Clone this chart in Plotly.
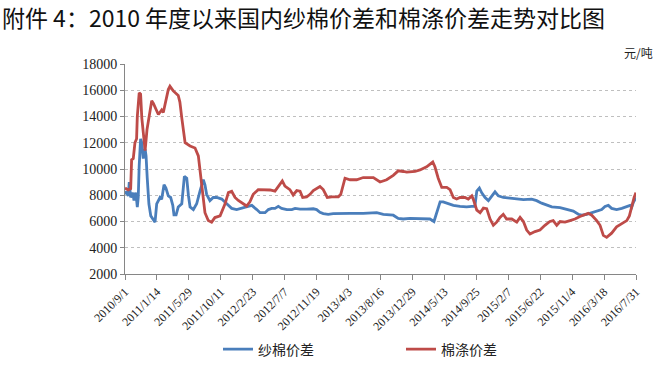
import plotly.graph_objects as go

# 纱棉价差 (blue)
yarn_dates = ["2010-09-01","2010-09-08","2010-09-15","2010-09-19","2010-09-25","2010-10-04","2010-10-09","2010-10-17","2010-10-23","2010-10-27",
"2010-10-31","2010-11-06","2010-11-11","2010-11-17","2010-11-25","2010-11-29","2010-12-04","2010-12-11","2010-12-19","2010-12-30",
"2011-01-06","2011-01-13","2011-01-20","2011-01-27","2011-02-03","2011-02-13","2011-02-21","2011-03-03","2011-03-13","2011-03-22",
"2011-03-27","2011-04-05","2011-04-14","2011-04-29","2011-05-10","2011-05-20","2011-05-27","2011-06-03","2011-06-17","2011-07-01",
"2011-07-15","2011-07-29","2011-08-05","2011-08-12","2011-08-26","2011-09-09","2011-09-24","2011-10-15","2011-11-05","2011-11-26",
"2011-12-17","2012-01-07","2012-01-28","2012-02-19","2012-03-11","2012-03-25","2012-04-15","2012-04-29","2012-05-13","2012-05-27",
"2012-06-10","2012-06-24","2012-07-16","2012-08-06","2012-08-20","2012-09-10","2012-10-08","2012-11-05","2012-11-19","2012-12-03",
"2012-12-17","2013-01-07","2013-01-28","2013-02-26","2013-04-09","2013-06-04","2013-07-17","2013-07-31","2013-08-28","2013-09-25",
"2013-10-09","2013-10-30","2013-11-20","2013-12-19","2014-01-16","2014-02-13","2014-03-13","2014-03-30","2014-04-13","2014-04-25",
"2014-05-08","2014-05-23","2014-06-20","2014-07-18","2014-08-15","2014-09-06","2014-09-19","2014-09-27","2014-10-08","2014-10-18",
"2014-11-01","2014-11-15","2014-11-29","2014-12-13","2014-12-27","2015-01-17","2015-02-14","2015-03-15","2015-04-12","2015-05-17",
"2015-06-07","2015-06-28","2015-07-20","2015-08-10","2015-09-14","2015-10-12","2015-11-09","2015-11-30","2015-12-14","2016-01-04",
"2016-01-26","2016-02-16","2016-03-08","2016-03-22","2016-04-05","2016-04-19","2016-05-10","2016-06-01","2016-06-22","2016-07-06",
"2016-07-13","2016-07-20","2016-07-31"]
yarn_values = [8070,8300,7950,9000,7830,8200,7600,8200,7100,7830,
10240,12300,12000,10800,11500,11000,9300,7350,6430,6070,
5950,7350,7600,7830,7700,8800,8550,7950,7830,7230,
6500,6500,7100,7350,9440,9300,8000,7110,6910,7350,
8310,9180,8800,8070,7590,7830,7830,7710,7350,7000,
6910,7000,7110,7230,6910,6670,6670,6910,7000,7000,
7150,7000,6910,6910,7000,6950,6950,6970,6910,6700,
6600,6550,6600,6620,6620,6620,6620,6670,6550,6500,
6480,6240,6190,6240,6240,6240,6190,6000,6790,7500,
7500,7400,7230,7150,7110,7150,7150,8310,8550,8190,
7830,7590,7950,8260,7950,7830,7780,7710,7660,7710,
7590,7400,7230,7110,7060,6910,6790,6550,6480,6550,
6670,6790,6910,7150,7230,7000,6910,7000,7150,7230,
7100,7470,7830]

# 棉涤价差 (red)
poly_dates = ["2010-09-01","2010-09-15","2010-09-25","2010-09-29","2010-10-06","2010-10-13","2010-10-20","2010-10-23","2010-10-31","2010-11-06",
"2010-11-11","2010-11-17","2010-11-25","2010-12-03","2010-12-23","2010-12-30","2011-01-13","2011-01-20","2011-02-03","2011-02-10",
"2011-02-17","2011-03-03","2011-03-10","2011-03-24","2011-04-14","2011-04-21","2011-04-29","2011-05-13","2011-06-03","2011-06-24",
"2011-07-08","2011-07-15","2011-07-29","2011-08-05","2011-08-19","2011-09-02","2011-09-16","2011-10-08","2011-10-29","2011-11-12",
"2011-11-26","2011-12-10","2011-12-24","2012-01-21","2012-01-28","2012-02-11","2012-02-25","2012-03-17","2012-04-15","2012-05-06",
"2012-05-27","2012-06-17","2012-06-27","2012-07-08","2012-07-29","2012-08-12","2012-08-27","2012-09-10","2012-09-21","2012-10-08",
"2012-10-22","2012-11-05","2012-12-03","2012-12-17","2013-01-03","2013-01-22","2013-02-19","2013-03-01","2013-03-19","2013-04-09",
"2013-05-07","2013-06-04","2013-07-17","2013-08-14","2013-09-11","2013-10-09","2013-10-30","2013-11-20","2013-12-05","2014-01-09",
"2014-01-30","2014-02-27","2014-03-25","2014-04-03","2014-04-17","2014-05-02","2014-05-23","2014-06-06","2014-06-20","2014-07-04",
"2014-07-18","2014-08-08","2014-08-22","2014-09-06","2014-09-12","2014-09-27","2014-10-11","2014-10-25","2014-11-08","2014-11-22",
"2014-12-06","2014-12-20","2015-01-03","2015-01-17","2015-01-31","2015-02-22","2015-03-15","2015-03-29","2015-04-12","2015-04-26",
"2015-05-10","2015-05-31","2015-06-21","2015-07-12","2015-08-02","2015-08-16","2015-08-31","2015-09-14","2015-10-05","2015-10-26",
"2015-11-16","2015-12-07","2015-12-28","2016-01-11","2016-01-26","2016-02-16","2016-03-01","2016-03-15","2016-03-29","2016-04-19",
"2016-05-10","2016-06-01","2016-06-22","2016-07-03","2016-07-13","2016-07-23","2016-07-31"]
poly_values = [8550,8400,8500,10700,10800,12000,12300,14000,15800,15700,
13900,12800,11400,13000,15200,15000,14400,14150,14500,14300,
14900,16050,16300,15950,15600,15100,13900,12000,11750,11600,
11000,9800,7830,6670,6070,5950,6300,6430,7350,8200,
8300,7830,7600,7300,7180,7500,8070,8430,8400,8400,
8310,8790,9090,8700,8430,8020,8360,8310,7830,7880,
8070,8360,8670,8430,7830,7880,7880,8070,9300,9180,
9180,9350,9350,9010,9180,9520,9860,9810,9760,9810,
9930,10170,10530,10170,9300,8600,8600,8430,7830,7710,
7830,7830,7710,7950,7710,6870,6670,7020,6980,6190,
5710,5950,6310,6550,6190,6190,5950,6310,6000,5350,
5040,5230,5350,5710,6000,6070,5710,6000,5950,6070,
6190,6380,6550,6620,6480,6070,5710,4940,4790,5110,
5590,5830,6070,6430,7150,7830,8200]

tick_dates = ["2010-09-01","2011-01-14","2011-05-29","2011-10-11","2012-02-23","2012-07-07","2012-11-19",
              "2013-04-03","2013-08-16","2013-12-29","2014-05-13","2014-09-25","2015-02-07","2015-06-22",
              "2015-11-04","2016-03-18","2016-07-31"]
tick_labels = ["2010/9/1","2011/1/14","2011/5/29","2011/10/11","2012/2/23","2012/7/7","2012/11/19",
               "2013/4/3","2013/8/16","2013/12/29","2014/5/13","2014/9/25","2015/2/7","2015/6/22",
               "2015/11/4","2016/3/18","2016/7/31"]
y_ticks = [2000,4000,6000,8000,10000,12000,14000,16000,18000]
y_labels = [str(v) for v in y_ticks]

fig = go.Figure()
fig.add_trace(go.Scatter(x=yarn_dates, y=yarn_values, mode="lines", name="纱棉价差",
                         line=dict(color="#4A7EBB", width=2.8)))
fig.add_trace(go.Scatter(x=poly_dates, y=poly_values, mode="lines", name="棉涤价差",
                         line=dict(color="#BE4B48", width=2.8)))

serif = "Liberation Serif, Times New Roman, serif"
fig.update_layout(
    width=661, height=377,
    margin=dict(l=125, r=25, t=64, b=94),
    paper_bgcolor="white", plot_bgcolor="white",
    title=dict(text="附件 4：2010 年度以来国内纱棉价差和棉涤价差走势对比图",
               font=dict(family="Noto Sans CJK SC", size=23, color="#111"),
               xref="container", x=0.003, xanchor="left",
               yref="container", y=0.95, yanchor="middle"),
    xaxis=dict(type="date", range=["2010-09-01", "2016-07-31"],
               tickmode="array", tickvals=tick_dates, ticktext=tick_labels,
               tickangle=-45, tickfont=dict(family=serif, size=12, color="#222"),
               showline=True, linecolor="#868686", linewidth=1,
               ticks="outside", ticklen=5, tickcolor="#868686",
               showgrid=False, zeroline=False),
    yaxis=dict(range=[2000, 18000], tickmode="array", tickvals=y_ticks, ticktext=y_labels,
               tickfont=dict(family=serif, size=14, color="#222"),
               showline=True, linecolor="#868686", linewidth=1,
               ticks="outside", ticklen=4, tickcolor="#868686",
               showgrid=True, gridcolor="#BFBFBF", griddash="dot", gridwidth=1,
               zeroline=False),
    legend=dict(orientation="h", xref="paper", yref="paper",
                x=0.182, y=-0.36, xanchor="left", yanchor="middle",
                font=dict(family="Noto Sans CJK SC", size=14, color="#222"),
                entrywidth=138, entrywidthmode="pixels", itemwidth=30,
                bgcolor="rgba(0,0,0,0)"),
    annotations=[dict(text="元/吨", xref="paper", yref="paper", x=1.037, y=1.055,
                      xanchor="right", yanchor="middle", showarrow=False,
                      font=dict(family="Noto Sans CJK SC", size=12, color="#222"))],
)

fig.write_html("out.html", config={"displayModeBar": False},
               post_script="document.body.style.margin='0';")
